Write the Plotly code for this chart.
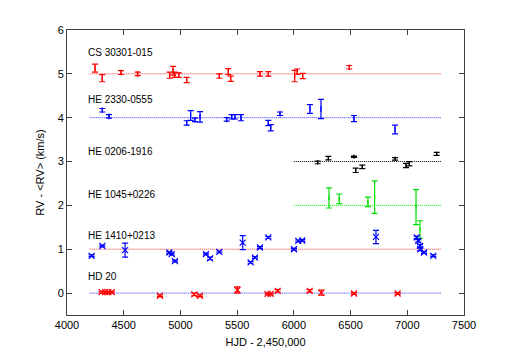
import plotly.graph_objects as go

# ---- data (HJD - 2,450,000 ; RV - <RV> residual in km/s ; error) ----
cs_x = [4247, 4311, 4476, 4623, 4905, 4935, 4950, 4985, 5055, 5343, 5422, 5443, 5701, 5775, 6007, 6030, 6078, 6489]
cs_y = [0.13, -0.10, 0.03, 0.00, -0.03, 0.07, -0.02, -0.03, -0.14, -0.05, 0.05, -0.11, 0.00, 0.00, -0.05, 0.05, -0.05, 0.15]
cs_e = [0.09, 0.08, 0.045, 0.04, 0.07, 0.10, 0.06, 0.05, 0.06, 0.05, 0.07, 0.06, 0.05, 0.05, 0.13, 0.06, 0.06, 0.04]

he2330_x = [4311, 4370, 5055, 5090, 5128, 5173, 5408, 5452, 5480, 5534, 5775, 5796, 5878, 6142, 6239, 6530, 6892]
he2330_y = [0.17, 0.03, -0.12, 0.05, -0.05, 0.02, -0.04, 0.02, 0.02, 0.00, -0.12, -0.23, 0.09, 0.20, 0.20, -0.02, -0.27]
he2330_e = [0.04, 0.04, 0.05, 0.11, 0.04, 0.12, 0.04, 0.05, 0.05, 0.07, 0.06, 0.07, 0.04, 0.10, 0.22, 0.07, 0.10]

he0206_x = [6210, 6304, 6530, 6545, 6603, 6892, 6989, 7018, 7259]
he0206_y = [-0.02, 0.08, 0.11, -0.20, -0.12, 0.06, -0.09, -0.05, 0.175]
he0206_e = [0.03, 0.04, 0.015, 0.05, 0.04, 0.03, 0.05, 0.05, 0.035]

he1045_x = [6310, 6400, 6653, 6712, 7077, 7112]
he1045_y = [0.17, 0.15, 0.08, 0.19, -0.04, -0.55]
he1045_e = [0.23, 0.11, 0.11, 0.37, 0.40, 0.20]

he1410_x = [4217, 4311, 4512, 4902, 4923, 4952, 5225, 5261, 5343, 5549, 5619, 5657, 5701, 5775, 6001, 6039, 6074, 6724, 7083, 7097, 7112, 7115, 7147, 7229]
he1410_y = [-0.15, 0.075, -0.02, -0.075, -0.11, -0.27, -0.11, -0.21, -0.06, 0.15, -0.30, -0.19, 0.04, 0.27, 0.00, 0.19, 0.20, 0.28, 0.27, 0.19, 0.075, 0.00, -0.075, -0.15]
he1410_e = [0.02, 0.02, 0.16, 0.02, 0.02, 0.02, 0.02, 0.03, 0.02, 0.16, 0.02, 0.02, 0.02, 0.02, 0.02, 0.02, 0.02, 0.15, 0.03, 0.03, 0.03, 0.03, 0.02, 0.02]

hd20_x = [4306, 4335, 4364, 4394, 4820, 5122, 5172, 5502, 5769, 5796, 5857, 6139, 6242, 6530, 6915]
hd20_y = [0.02, 0.02, 0.02, 0.02, -0.06, -0.03, -0.06, 0.07, -0.02, -0.02, 0.05, 0.05, 0.01, -0.01, -0.01]
hd20_e = [0.02, 0.02, 0.02, 0.02, 0.02, 0.03, 0.02, 0.07, 0.02, 0.02, 0.03, 0.03, 0.06, 0.02, 0.02]

names = ["CS 30301-015", "HE 2330-0555", "HE 0206-1916", "HE 1045+0226", "HE 1410+0213", "HD 20"]
offsets = [5, 4, 3, 2, 1, 0]
line_start = [4200, 4200, 6000, 6000, 4200, 4200]
line_end = [7300, 7300, 7300, 7300, 7300, 7300]
label_y = [5.48, 4.41, 3.22, 2.25, 1.32, 0.38]

series = [
    (cs_x, cs_y, cs_e, "#ff0000", "#ff3030", "line-ns", 4),
    (he2330_x, he2330_y, he2330_e, "#0000ff", "#3030ff", "line-ns", 4),
    (he0206_x, he0206_y, he0206_e, "#000000", "#000000", "line-ns", 3),
    (he1045_x, he1045_y, he1045_e, "#00e000", "#00ff00", "line-ns", 3),
    (he1410_x, he1410_y, he1410_e, "#0000ff", "#ff3030", "x-thin", 6),
    (hd20_x, hd20_y, hd20_e, "#ff0000", "#3030ff", "x-thin", 6),
]

fig = go.Figure()
for i, (xs, ys, es, pc, lc, sym, ms) in enumerate(series):
    off = offsets[i]
    fig.add_trace(go.Scatter(
        x=[line_start[i], line_end[i]], y=[off, off], mode="lines",
        line=dict(color=lc, width=1, dash="1px,1px"), hoverinfo="skip", showlegend=False))
    fig.add_trace(go.Scatter(
        x=xs, y=[v + off for v in ys], mode="markers",
        marker=dict(symbol=sym, size=ms, color=pc, line=dict(color=pc, width=1.2)),
        error_y=dict(type="data", array=es, color=pc, thickness=1.2, width=3),
        showlegend=False))
    fig.add_annotation(x=4170, y=label_y[i], text=names[i], showarrow=False,
                       xanchor="left", yanchor="middle",
                       font=dict(size=10, color="#000000", family="Liberation Sans, Arial, sans-serif"))

axis_common = dict(showline=True, linecolor="#404040", linewidth=1, mirror="ticks",
                   ticks="inside", ticklen=5, tickcolor="#404040", showgrid=False,
                   zeroline=False, tickfont=dict(size=11, color="#000000"))

fig.update_xaxes(range=[4000, 7500], dtick=500, tick0=4000,
                 title=dict(text="HJD - 2,450,000", font=dict(size=11), standoff=8), **axis_common)
fig.update_yaxes(range=[-0.5, 6], dtick=1, tick0=0,
                 title=dict(text="RV - &lt;RV&gt; (km/s)", font=dict(size=11), standoff=10), **axis_common)

fig.update_layout(width=513, height=355, margin=dict(l=59, r=57, t=22, b=48),
                  plot_bgcolor="white", paper_bgcolor="white",
                  font=dict(family="Liberation Sans, Arial, sans-serif", color="#000000"))

fig.write_html("out.html")
